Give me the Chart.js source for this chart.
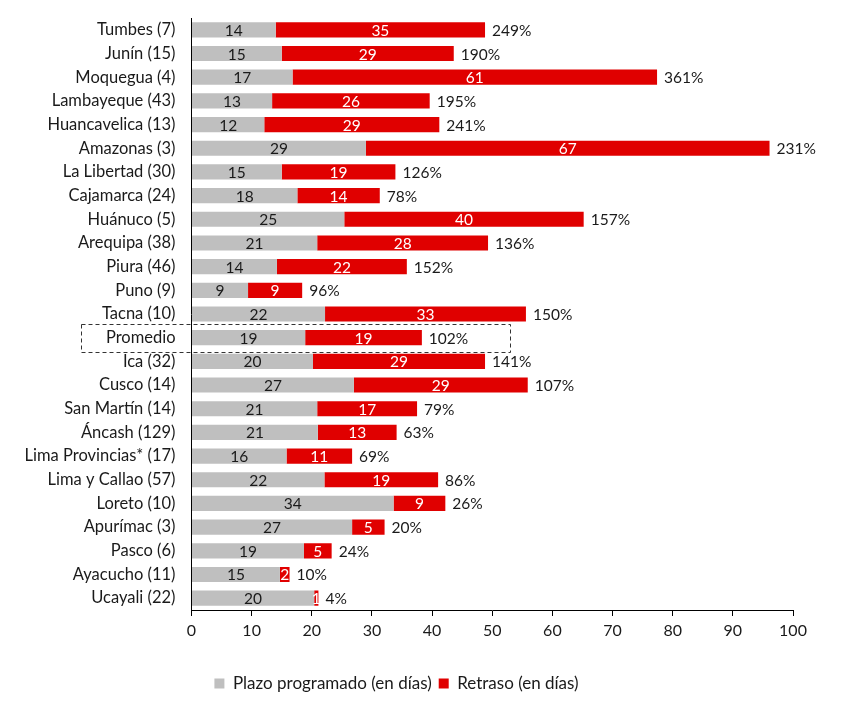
<!DOCTYPE html>
<html>
<head>
<meta charset="utf-8">
<script src="https://cdn.jsdelivr.net/npm/chart.js@4.4.1/dist/chart.umd.min.js"></script>
<style>
html,body{margin:0;padding:0;background:#fff;}
#wrap{width:851px;height:702px;}
</style>
</head>
<body>
<div id="wrap"><canvas id="c" width="851" height="702"></canvas></div>
<script>
const categories = ["Tumbes (7)","Junín (15)","Moquegua (4)","Lambayeque (43)","Huancavelica (13)","Amazonas (3)","La Libertad (30)","Cajamarca (24)","Huánuco (5)","Arequipa (38)","Piura (46)","Puno (9)","Tacna (10)","Promedio","Ica (32)","Cusco (14)","San Martín (14)","Áncash (129)","Lima Provincias* (17)","Lima y Callao (57)","Loreto (10)","Apurímac (3)","Pasco (6)","Ayacucho (11)","Ucayali (22)"];
const plazo = [14.0,15.0,16.8,13.4,12.1,29.0,15.0,17.6,25.4,20.9,14.2,9.4,22.2,18.9,20.2,27.0,20.9,21.0,15.8,22.1,33.6,26.7,18.7,14.7,20.4];
const retraso = [34.8,28.6,60.6,26.2,29.1,67.1,18.9,13.7,39.8,28.4,21.6,9.0,33.4,19.4,28.6,28.9,16.6,13.1,10.9,18.9,8.6,5.4,4.6,1.6,0.7];
const porcentaje = [249,190,361,195,241,231,126,78,157,136,152,96,150,102,141,107,79,63,69,86,26,20,24,10,4];
const xTicks = [0,10,20,30,40,50,60,70,80,90,100];
const seriesNames = ["Plazo programado (en días)","Retraso (en días)"];
const highlighted = "Promedio";

const FONT = "Lato, 'Open Sans', sans-serif";
const TXT = "#1a1a1a";

const labelPlugin = {
  id: 'labels',
  afterDatasetsDraw(chart) {
    const ctx = chart.ctx;
    const m0 = chart.getDatasetMeta(0), m1 = chart.getDatasetMeta(1);
    ctx.save();
    ctx.font = "15.5px " + FONT;
    ctx.textBaseline = 'middle';
    m0.data.forEach((el, i) => {
      ctx.fillStyle = TXT; ctx.textAlign = 'center';
      ctx.fillText(String(Math.round(plazo[i])), (el.base + el.x) / 2, el.y + 1);
    });
    m1.data.forEach((el, i) => {
      ctx.fillStyle = '#ffffff'; ctx.textAlign = 'center';
      ctx.fillText(String(Math.round(retraso[i])), (el.base + el.x) / 2, el.y + 1);
      ctx.fillStyle = TXT; ctx.textAlign = 'left';
      ctx.fillText(porcentaje[i] + '%', el.x + 7, el.y + 1);
    });
    // dashed box around highlighted row
    const idx = categories.indexOf(highlighted);
    const ys = chart.scales.y, xs = chart.scales.x;
    const cy = ys.getPixelForValue(idx);
    const half = (ys.height / categories.length) / 2 + 2;
    const right = xs.getPixelForValue(52.8);
    const left = xs.left - 111;
    ctx.setLineDash([4, 3]);
    ctx.lineWidth = 1;
    ctx.strokeStyle = '#333333';
    ctx.strokeRect(Math.round(left) + 0.5, Math.round(cy - half) + 0.5, Math.round(right - left), Math.round(half * 2));
    ctx.restore();
  }
};

new Chart(document.getElementById('c'), {
  type: 'bar',
  data: {
    labels: categories,
    datasets: [
      { label: seriesNames[0], data: plazo, backgroundColor: '#BFBFBF', borderWidth: 0, barPercentage: 0.64, categoryPercentage: 1 },
      { label: seriesNames[1], data: retraso, backgroundColor: '#E00000', borderWidth: 0, barPercentage: 0.64, categoryPercentage: 1 }
    ]
  },
  options: {
    indexAxis: 'y',
    responsive: false,
    animation: false,
    devicePixelRatio: 1,
    layout: { padding: { top: 18, right: 58, left: 0, bottom: 0 } },
    scales: {
      x: {
        stacked: true, min: 0, max: 100,
        afterBuildTicks(s) { s.ticks = xTicks.map(v => ({ value: v })); },
        grid: { drawOnChartArea: false, drawTicks: true, tickLength: 6, color: '#000' },
        border: { display: true, color: '#000', width: 1 },
        ticks: { color: TXT, font: { family: FONT, size: 16 }, padding: 5, maxRotation: 0 },
        afterFit(s) { s.height = 58; }
      },
      y: {
        stacked: true,
        grid: { drawOnChartArea: false, drawTicks: false },
        border: { display: true, color: '#000', width: 1 },
        ticks: { color: TXT, font: { family: FONT, size: 16.5 }, padding: 16, autoSkip: false },
        afterFit(s) { s.width = 191.5; s.paddingTop = 0; s.paddingBottom = 0; }
      }
    },
    plugins: {
      legend: {
        position: 'bottom',
        labels: { color: TXT, font: { family: FONT, size: 17 }, boxWidth: 10, boxHeight: 10, padding: 7 }
      },
      tooltip: { enabled: false }
    }
  },
  plugins: [labelPlugin]
});
</script>
</body>
</html>
